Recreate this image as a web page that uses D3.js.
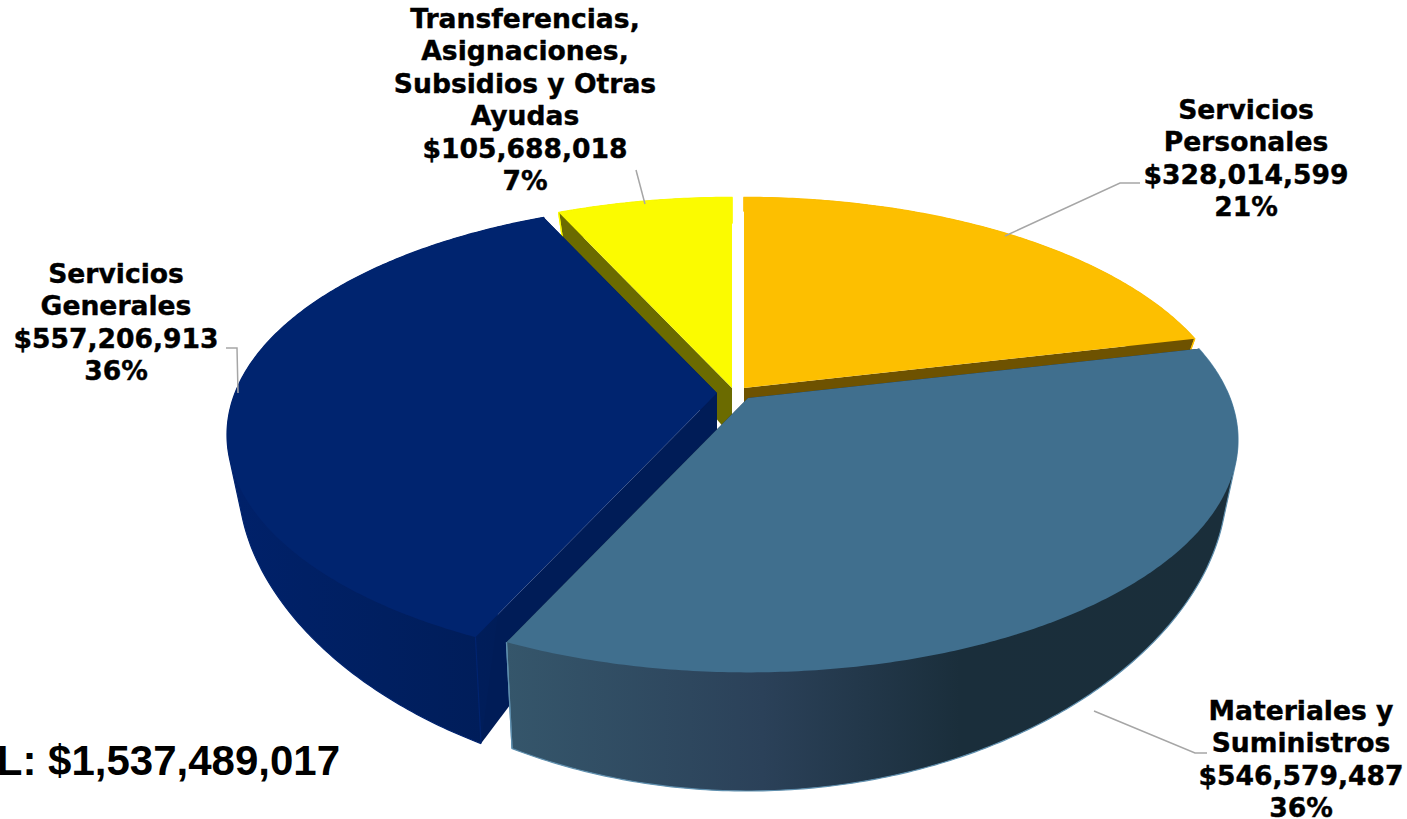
<!DOCTYPE html>
<html>
<head>
<meta charset="utf-8">
<script src="https://cdn.jsdelivr.net/npm/d3@7"></script>
<style>
    html, body { margin: 0; padding: 0; background: #fff; overflow: hidden; }
    svg { display: block; }
</style>
</head>
<body>
<script>
// data
const categories = ['Servicios Personales', 'Materiales y Suministros', 'Servicios Generales', 'Transferencias, Asignaciones, Subsidios y Otras Ayudas'];
const values = [328014599, 546579487, 557206913, 105688018];
const labelLines = [
    ['Servicios', 'Personales'],
    ['Materiales y', 'Suministros'],
    ['Servicios', 'Generales'],
    ['Transferencias,', 'Asignaciones,', 'Subsidios y Otras', 'Ayudas']
];

// look of each slice
const topColors = ['#fdbf00', '#406f8e', '#00246f', '#fbfb00'];
const faceColors = ['#6e5200', '#1a2f3b', '#001c57', '#6b6b00'];
const wallStops = [
    [[0, '#6e5200'], [1, '#6e5200']],
    [[0, '#35566b'], [0.35, '#2b4159'], [0.62, '#1a2e3b'], [1, '#1a2e3a']],
    [[0, '#00216a'], [0.5, '#001f60'], [1, '#001c56']],
    [[0, '#6b6b00'], [1, '#6b6b00']]
];
const edgeColors = ['#fdbf00', '#5f8fae', '#00246f', '#fbfb00'];

// exploded apex of each slice on the page, and its wall height at the apex
const apexes = [[744, 388], [748, 398], [717, 393], [732, 388]];
const depths = [37, 37, 37, 49];

// perspective of the top disc and of the bottom disc
const rTop = 482, kTop = 225, pTop = 0.18;
const kBottom = 267, pBottom = 0.25, inset = 0.977;

const width = 1407, height = 819;
const svg = d3.select('body').append('svg')
    .attr('width', width)
    .attr('height', height);

const total = d3.sum(values);
const arcs = d3.pie().sort(null).startAngle(0).endAngle(2 * Math.PI)(values);

const line = d3.line();

// angle is clockwise from straight up, r runs 0..1 on the disc
function topPoint(i, angle, r = 1) {
    const u = r * Math.sin(angle), v = r * Math.cos(angle);
    const w = 1 + pTop * v;
    return [apexes[i][0] + rTop * u / w, apexes[i][1] - kTop * v / w];
}
function bottomPoint(i, angle, r = 1) {
    const u = r * Math.sin(angle), v = r * Math.cos(angle);
    return [
        apexes[i][0] + inset * rTop * u / (1 + pTop * v),
        apexes[i][1] + depths[i] - kBottom * v / (1 + pBottom * v)
    ];
}
function sweep(a) {
    const n = Math.ceil((a.endAngle - a.startAngle) / 0.01);
    return d3.range(n + 1).map(i => a.startAngle + (a.endAngle - a.startAngle) * i / n);
}

const defs = svg.append('defs');
arcs.forEach((a, i) => {
    const xs = sweep(a).map(t => topPoint(i, t)[0]);
    const grad = defs.append('linearGradient')
        .attr('id', `wall${i}`)
        .attr('gradientUnits', 'userSpaceOnUse')
        .attr('x1', d3.min(xs)).attr('x2', d3.max(xs))
        .attr('y1', 0).attr('y2', 0);
    wallStops[i].forEach(s => grad.append('stop').attr('offset', s[0]).attr('stop-color', s[1]));
});

// painter's order: back slices first
const order = [3, 0, 2, 1];
const slices = svg.append('g').selectAll('g')
    .data(order)
    .enter().append('g');

slices.each(function (i) {
    const a = arcs[i], g = d3.select(this);
    const angles = sweep(a);
    const topRim = angles.map(t => topPoint(i, t));
    const bottomRim = angles.map(t => bottomPoint(i, t));
    const apexBottom = bottomPoint(i, 0, 0);

    // cut faces
    [a.endAngle, a.startAngle].forEach(t => {
        g.append('path')
            .attr('d', line([topPoint(i, 0, 0), topPoint(i, t), bottomPoint(i, t), apexBottom]) + 'Z')
            .attr('fill', faceColors[i]);
    });

    // outer wall, hull so the side runs straight from the top rim to the bottom rim
    const hull = d3.polygonHull(topRim.concat(bottomRim));
    g.append('path')
        .attr('d', line(hull) + 'Z')
        .attr('fill', `url(#wall${i})`);

    // rim outline without the long closing chord of the hull
    const lens = hull.map((p, k) => Math.hypot(p[0] - hull[(k + 1) % hull.length][0], p[1] - hull[(k + 1) % hull.length][1]));
    const cut = (d3.maxIndex(lens) + 1) % hull.length;
    const outline = hull.slice(cut).concat(hull.slice(0, cut));
    [outline, [topRim[0], bottomRim[0]], [topRim[topRim.length - 1], bottomRim[bottomRim.length - 1]]].forEach(pts => {
        g.append('path')
            .attr('d', line(pts))
            .attr('fill', 'none')
            .attr('stroke', edgeColors[i])
            .attr('stroke-width', 1.2);
    });

    // top
    g.append('path')
        .attr('d', line([topPoint(i, 0, 0)].concat(topRim)) + 'Z')
        .attr('fill', topColors[i]);
});

// leader lines
const leaders = [
    [[1005, 236], [1120, 183], [1140, 183]],
    [[1094, 711], [1195, 753], [1207, 753]],
    [[238, 393], [237, 348], [226, 348]],
    [[645, 204], [636, 170]]
];
svg.append('g').selectAll('path')
    .data(leaders)
    .enter().append('path')
    .attr('d', d => line(d))
    .attr('fill', 'none')
    .attr('stroke', '#a6a6a6')
    .attr('stroke-width', 1.5);

// labels: name lines, then amount, then percent
const labelX = [1246, 1301, 116, 525];
const labelY = [119, 720, 283, 28];
const money = d3.format('$,');
const pct = d3.format('.0%');

const labels = svg.append('g')
    .attr('font-family', '"DejaVu Sans", Verdana, sans-serif')
    .attr('font-weight', 'bold')
    .attr('font-size', 26.6)
    .attr('fill', '#000')
    .attr('stroke', '#000')
    .attr('stroke-width', 0.4)
    .attr('text-anchor', 'middle')
    .selectAll('text')
    .data(arcs)
    .enter().append('text')
    .attr('aria-label', (d, i) => categories[i]);

labels.selectAll('tspan')
    .data((d, i) => labelLines[i].concat([money(d.value), pct(d.value / total)]).map((s, k) => ({ s, k, i })))
    .enter().append('tspan')
    .attr('x', d => labelX[d.i])
    .attr('y', d => labelY[d.i] + d.k * 32.4)
    .text(d => d.s);

svg.append('text')
    .attr('x', 340)
    .attr('y', 775)
    .attr('text-anchor', 'end')
    .attr('font-family', '"Liberation Sans", Arial, sans-serif')
    .attr('font-weight', 'bold')
    .attr('font-size', 42)
    .attr('fill', '#000')
    .text(`TOTAL: ${money(total)}`);
</script>
</body>
</html>
